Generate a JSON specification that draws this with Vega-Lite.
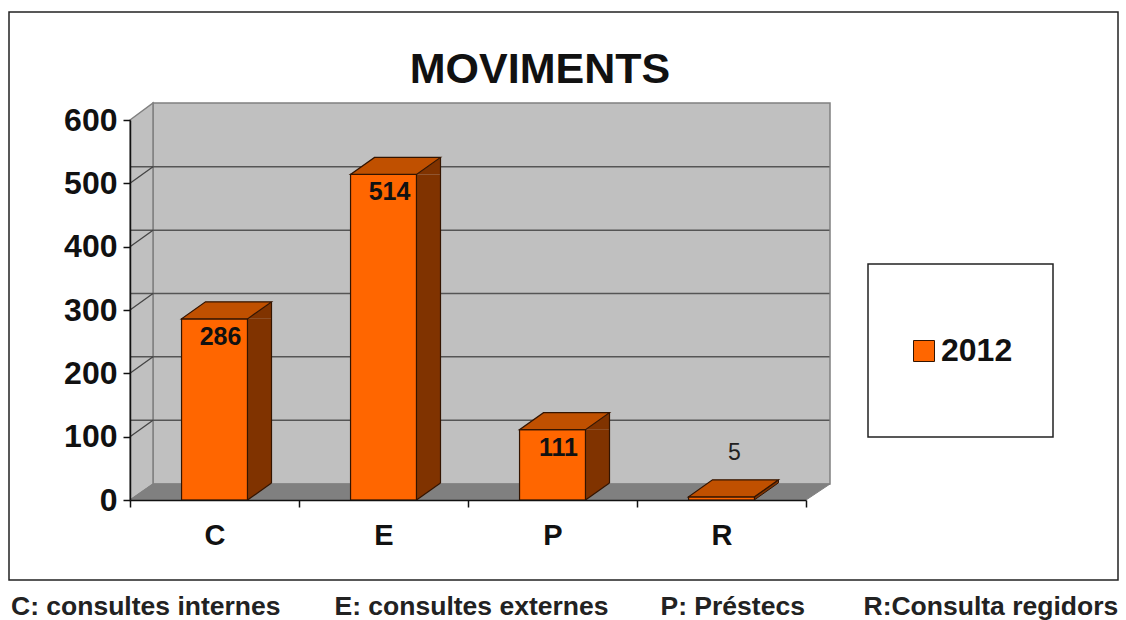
{
"$schema":"https://vega.github.io/schema/vega-lite/v6.json",
"autosize":"none","width":676,"height":380,
"padding":{"left":130,"top":120,"right":320,"bottom":120},
"background":"white",
"title":{"text":"MOVIMENTS","font":"Liberation Sans","fontSize":43,"fontWeight":"bold","color":"#111","anchor":"middle","dx":72,"offset":-83},
"config":{"view":{"stroke":null},"text":{"font":"Liberation Sans"}},
"datasets":{
"barres":[{"categoria":"C","valor":286,"any":"2012"},{"categoria":"E","valor":514,"any":"2012"},{"categoria":"P","valor":111,"any":"2012"},{"categoria":"R","valor":5,"any":"2012"}],
"marques":[{"marca":0},{"marca":100},{"marca":200},{"marca":300},{"marca":400},{"marca":500},{"marca":600}],
"peu":[{"nota":"C: consultes internes"},{"nota":"E: consultes externes"},{"nota":"P: Préstecs"},{"nota":"R:Consulta regidors"}],
"ancora":[{"categoria":"C","valor":0}]
},
"layer":[
{"data":{"name":"ancora"},"mark":{"type":"point","shape":"M-205.5,-488 L903.5,-488 L903.5,80 L-205.5,80 Z","size":4,"filled":false,"stroke":"#222","strokeWidth":1.5,"opacity":1,"clip":false},
"encoding":{
"x":{"field":"categoria","type":"nominal","scale":{"type":"band","domain":["C","E","P","R"],"padding":0},
"axis":{"title":null,"labelAngle":0,"labelFont":"Liberation Sans","labelFontSize":29,"labelFontWeight":"bold","labelColor":"#111","labelPadding":14,"tickSize":7,"tickWidth":1.5,"tickColor":"#111","domainColor":"#111","domainWidth":1.5,"tickBand":"extent","zindex":1}},
"y":{"field":"valor","type":"quantitative","scale":{"domain":[0,600],"nice":false},
"axis":{"title":null,"values":[0,100,200,300,400,500,600],"grid":false,"labelFont":"Liberation Sans","labelFontSize":32,"labelFontWeight":"bold","labelColor":"#111","labelPadding":6,"tickSize":7,"tickWidth":1.5,"tickColor":"#111","domainColor":"#111","domainWidth":1.5,"zindex":1}}}},
{"data":{"name":"ancora"},"mark":{"type":"point","shape":"M653.5,-236 L838.5,-236 L838.5,-63 L653.5,-63 Z","size":4,"filled":true,"fill":"white","stroke":"#222","strokeWidth":1.5,"opacity":1},
"encoding":{"x":{"field":"categoria","type":"nominal"},"y":{"field":"valor","type":"quantitative"}}},
{"data":{"name":"ancora"},"mark":{"type":"point","shape":"M-61.5,-397 L615.5,-397 L615.5,-16 L-61.5,-16 Z","size":4,"filled":true,"fill":"#c0c0c0","stroke":"#808080","strokeWidth":1.5,"opacity":1},
"encoding":{"x":{"field":"categoria","type":"nominal"},"y":{"field":"valor","type":"quantitative"}}},
{"data":{"name":"ancora"},"mark":{"type":"point","shape":"M-84.5,-380 L-61.5,-397 L-61.5,-16 L-84.5,0 Z","size":4,"filled":true,"fill":"#c0c0c0","stroke":"#808080","strokeWidth":1.5,"opacity":1},
"encoding":{"x":{"field":"categoria","type":"nominal"},"y":{"field":"valor","type":"quantitative"}}},
{"data":{"name":"ancora"},"mark":{"type":"point","shape":"M-84.5,0 L-61.5,-16 L615.5,-16 L591.5,0 Z","size":4,"filled":true,"fill":"#808080","stroke":"#808080","strokeWidth":1,"opacity":1},
"encoding":{"x":{"field":"categoria","type":"nominal"},"y":{"field":"valor","type":"quantitative"}}},
{"data":{"name":"marques"},"transform":[{"filter":"datum.marca>0 && datum.marca<600"}],"mark":{"type":"rule","stroke":"#555","strokeWidth":1.5,"xOffset":23.5,"x2Offset":23.5,"yOffset":-16.5},
"encoding":{"y":{"field":"marca","type":"quantitative"}}},
{"data":{"name":"marques"},"transform":[{"filter":"datum.marca>0 && datum.marca<600"}],"mark":{"type":"point","shape":"M-84.5,0 L-61.5,-16.5","size":4,"filled":false,"stroke":"#444","strokeWidth":1.3,"opacity":1},
"encoding":{"x":{"datum":"C","type":"nominal"},"y":{"field":"marca","type":"quantitative"}}},
{"data":{"name":"barres"},"transform":[{"filter":"datum.valor>30"}],"mark":{"type":"rule","stroke":"#803300","strokeWidth":24,"xOffset":45,"y2Offset":-17},
"encoding":{"x":{"field":"categoria","type":"nominal"},"y":{"field":"valor","type":"quantitative"},"y2":{"datum":0}}},
{"data":{"name":"barres"},"transform":[{"filter":"datum.valor>30"}],"mark":{"type":"point","shape":"M33,-17 L57,-17 L33,0 Z","size":4,"filled":true,"fill":"#803300","opacity":1,"strokeWidth":0},
"encoding":{"x":{"field":"categoria","type":"nominal"},"y":{"datum":0}}},
{"data":{"name":"barres"},"transform":[{"filter":"datum.valor>30"}],"mark":{"type":"point","shape":"M33,0 L57,-17 L57,0 Z","size":4,"filled":true,"fill":"#803300","opacity":1,"strokeWidth":0},
"encoding":{"x":{"field":"categoria","type":"nominal"},"y":{"field":"valor","type":"quantitative"}}},
{"data":{"name":"barres"},"transform":[{"filter":"datum.valor>30"}],"mark":{"type":"point","shape":"M33,0 L57,-17","size":4,"filled":false,"stroke":"#331400","strokeWidth":1.2,"opacity":1},
"encoding":{"x":{"field":"categoria","type":"nominal"},"y":{"datum":0}}},
{"data":{"name":"barres"},"transform":[{"filter":"datum.valor>30"}],"mark":{"type":"rule","stroke":"#331400","strokeWidth":1.2,"xOffset":57,"yOffset":-17,"y2Offset":-17},
"encoding":{"x":{"field":"categoria","type":"nominal"},"y":{"field":"valor","type":"quantitative"},"y2":{"datum":0}}},
{"data":{"name":"barres"},"transform":[{"filter":"datum.valor<=30"}],"mark":{"type":"point","shape":"M33,0 L57,-17 L57,-14 L33,3 Z","size":4,"filled":true,"fill":"#803300","stroke":"#331400","strokeWidth":1,"opacity":1},
"encoding":{"x":{"field":"categoria","type":"nominal"},"y":{"field":"valor","type":"quantitative"}}},
{"data":{"name":"barres"},"mark":{"type":"bar","width":{"band":0.39},"stroke":"#331400","strokeWidth":1.2},
"encoding":{"x":{"field":"categoria","type":"nominal"},"y":{"field":"valor","type":"quantitative"},
"color":{"field":"any","type":"nominal","scale":{"range":["#ff6600"]},
"legend":{"orient":"none","legendX":778,"legendY":215,"title":null,"symbolType":"square","symbolSize":441,"symbolStrokeColor":"#331400","symbolStrokeWidth":1,"labelFont":"Liberation Sans","labelFontSize":32,"labelFontWeight":"bold","labelColor":"#111","labelOffset":1}}}},
{"data":{"name":"barres"},"mark":{"type":"point","shape":"M-33,0 L33,0 L57,-17 L-9,-17 Z","size":4,"filled":true,"fill":"#c05000","stroke":"#331400","strokeWidth":1.2,"opacity":1},
"encoding":{"x":{"field":"categoria","type":"nominal"},"y":{"field":"valor","type":"quantitative"}}},
{"data":{"name":"barres"},"transform":[{"filter":"datum.valor>30"}],"mark":{"type":"text","font":"Liberation Sans","fontSize":25,"fontWeight":"bold","color":"#111","dx":6,"dy":18},
"encoding":{"x":{"field":"categoria","type":"nominal"},"y":{"field":"valor","type":"quantitative"},"text":{"field":"valor","type":"quantitative"}}},
{"data":{"name":"barres"},"transform":[{"filter":"datum.valor<=30"}],"mark":{"type":"text","font":"Liberation Sans","fontSize":23,"color":"#222","dx":13,"dy":-44},
"encoding":{"x":{"field":"categoria","type":"nominal"},"y":{"field":"valor","type":"quantitative"},"text":{"field":"valor","type":"quantitative"}}},
{"data":{"name":"peu"},"transform":[{"filter":"indexof(datum.nota,'C:')==0"}],"mark":{"type":"text","align":"left","font":"Liberation Sans","fontSize":26.5,"fontWeight":"bold","color":"#222","dx":-203.5,"dy":107},
"encoding":{"x":{"datum":"C","type":"nominal"},"y":{"datum":0},"text":{"field":"nota"}}},
{"data":{"name":"peu"},"transform":[{"filter":"indexof(datum.nota,'E:')==0"}],"mark":{"type":"text","align":"left","font":"Liberation Sans","fontSize":26.5,"fontWeight":"bold","color":"#222","dx":-49,"dy":107},
"encoding":{"x":{"datum":"E","type":"nominal"},"y":{"datum":0},"text":{"field":"nota"}}},
{"data":{"name":"peu"},"transform":[{"filter":"indexof(datum.nota,'P:')==0"}],"mark":{"type":"text","align":"left","font":"Liberation Sans","fontSize":26.5,"fontWeight":"bold","color":"#222","dx":108,"dy":107},
"encoding":{"x":{"datum":"P","type":"nominal"},"y":{"datum":0},"text":{"field":"nota"}}},
{"data":{"name":"peu"},"transform":[{"filter":"indexof(datum.nota,'R:')==0"}],"mark":{"type":"text","align":"left","font":"Liberation Sans","fontSize":26.5,"fontWeight":"bold","color":"#222","dx":142,"dy":107},
"encoding":{"x":{"datum":"R","type":"nominal"},"y":{"datum":0},"text":{"field":"nota"}}}
]
}
